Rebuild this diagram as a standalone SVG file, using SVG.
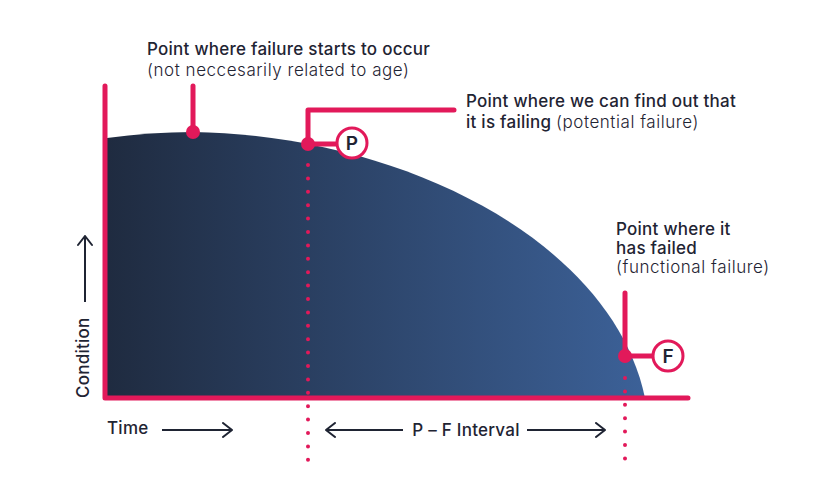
<svg xmlns="http://www.w3.org/2000/svg" width="840" height="480" viewBox="0 0 840 480">
<defs>
<linearGradient id="fillGrad" x1="108" y1="0" x2="645" y2="0" gradientUnits="userSpaceOnUse">
<stop offset="0" stop-color="#1f2b40"/>
<stop offset="1" stop-color="#3c6198"/>
</linearGradient>
<marker id="chev" viewBox="0 0 12 16" refX="11" refY="8" markerWidth="12" markerHeight="16" markerUnits="userSpaceOnUse" orient="auto-start-reverse">
<path d="M2,1 L11,8 L2,15" fill="none" stroke="#1f2433" stroke-width="2" stroke-linecap="round" stroke-linejoin="round"/>
</marker>
<style>
.red{stroke:#e2195a;stroke-width:5;fill:none;stroke-linecap:round;stroke-linejoin:round}
.dots{stroke:#e2195a;stroke-width:4;fill:none;stroke-linecap:round;stroke-dasharray:0 13.4}
.dot{fill:#e2195a}
.badge{fill:#fff;stroke:#e2195a;stroke-width:3}
.arrow{stroke:#1f2433;stroke-width:2;fill:none;marker-end:url(#chev)}
text{font-family:Inter,"Liberation Sans",sans-serif;fill:#1f2433;font-size:17px}
.b{font-weight:500;letter-spacing:0.25px}
.l{font-weight:300;letter-spacing:0.55px}
.badgeT{font-size:19px;font-weight:600;text-anchor:middle}
</style>
</defs>
<rect width="840" height="480" fill="#fff"/>
<g id="area">
<path d="M107,138 C135,134 165,132 193,132 C400,135 612,240 645,398 L107,398 Z" fill="url(#fillGrad)"/>
</g>
<g id="connectors">
<line class="dots" x1="308" y1="165" x2="308" y2="460"/>
<line class="dots" x1="625" y1="378" x2="625" y2="460"/>
<polyline class="red" points="105,86 105,398 688,398"/>
<line class="red" x1="193" y1="86" x2="193" y2="132"/>
<polyline class="red" points="454,110 308,110 308,144 345,144"/>
<polyline class="red" points="625,293 625,356 660,356"/>
<line class="arrow" x1="85" y1="302" x2="85" y2="236"/>
<line class="arrow" x1="162" y1="430" x2="232" y2="430"/>
<line class="arrow" x1="403" y1="430" x2="326" y2="430"/>
<line class="arrow" x1="527" y1="430" x2="605" y2="430"/>
</g>
<g id="start-node">
<circle class="dot" cx="193" cy="132" r="7"/>
<text class="b" x="147" y="55">Point where failure starts to occur</text>
<text class="l" x="147" y="76">(not neccesarily related to age)</text>
</g>
<g id="p-node">
<circle class="dot" cx="308" cy="144" r="7"/>
<circle class="badge" cx="352" cy="143" r="15"/>
<text class="badgeT" x="352" y="150">P</text>
<text class="b" x="466" y="107">Point where we can find out that</text>
<text x="466" y="128"><tspan class="b">it is failing</tspan> <tspan class="l">(potential failure)</tspan></text>
</g>
<g id="f-node">
<circle class="dot" cx="625" cy="356" r="7"/>
<circle class="badge" cx="668" cy="356" r="15"/>
<text class="badgeT" x="668" y="363">F</text>
<text class="b" x="616" y="235">Point where it</text>
<text class="b" x="616" y="254">has failed</text>
<text class="l" x="616" y="273">(functional failure)</text>
</g>
<g id="axes-labels">
<text class="b" transform="translate(89,398) rotate(-90)">Condition</text>
<text class="b" x="107" y="434">Time</text>
<text class="b" x="466" y="436" text-anchor="middle">P – F Interval</text>
</g>
</svg>
